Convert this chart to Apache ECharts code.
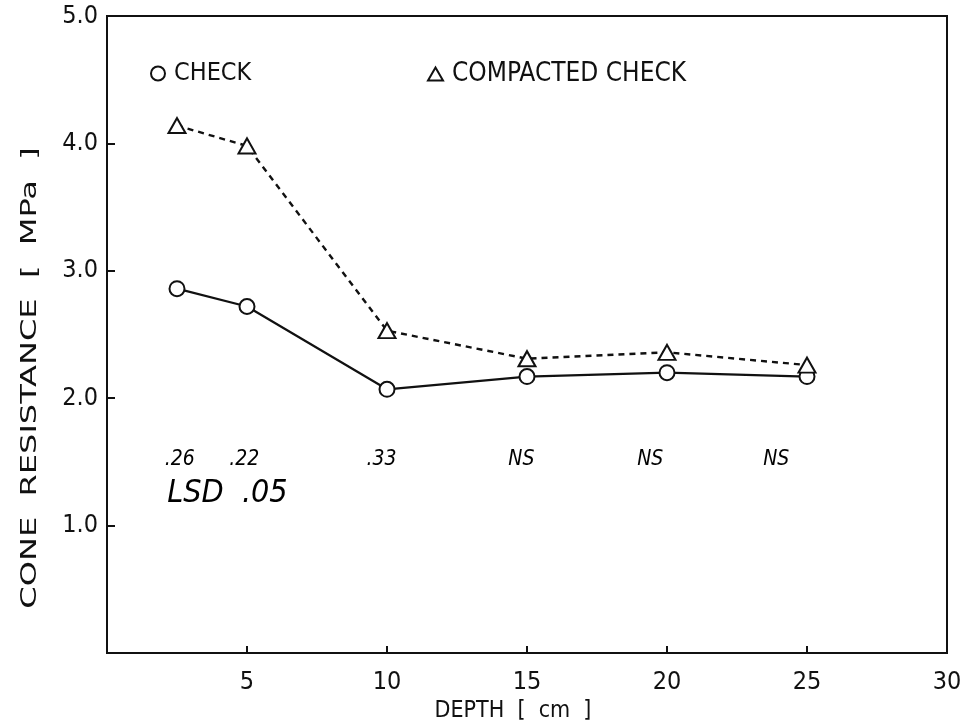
<!DOCTYPE html>
<html>
<head>
<meta charset="utf-8">
<script src="https://cdn.jsdelivr.net/npm/echarts@6/dist/echarts.min.js"></script>
<style>html,body{margin:0;padding:0;background:#fff}#c{width:974px;height:727px}</style>
</head>
<body>
<div id="c"></div>
<script>
var depths = [2.5, 5, 10, 15, 20, 25];
var checkValues = [2.86, 2.72, 2.07, 2.17, 2.20, 2.17];
var compactedValues = [4.14, 3.98, 2.53, 2.31, 2.36, 2.26];
var lsdLabels = ['.26', '.22', '.33', 'NS', 'NS', 'NS'];
var lsdX = [2.6, 4.9, 9.8, 14.8, 19.4, 23.9];
var lsdY = 1.52;
var lsdTitle = 'LSD  .05';
var lsdTitleX = 4.3, lsdTitleY = 1.25;
var xTicks = [5, 10, 15, 20, 25, 30];
var yTicks = [1.0, 2.0, 3.0, 4.0, 5.0];

var FONT = "'DejaVu Sans Condensed', 'DejaVu Sans', sans-serif";
var INK = '#111';

var chart = echarts.init(document.getElementById('c'));
chart.setOption({
  backgroundColor: '#fff',
  animation: false,
  grid: { left: 107, right: 27, top: 16, bottom: 74, containLabel: false, outerBoundsMode: 'none',
    show: true, borderColor: INK, borderWidth: 2, backgroundColor: 'transparent' },
  legend: [
    { data: ['CHECK'], left: 145, top: 56, icon: 'circle', itemWidth: 14, itemHeight: 14, itemGap: 8,
      itemStyle: { color: '#fff', borderColor: INK, borderWidth: 2 },
      textStyle: { fontFamily: FONT, fontSize: 25, color: INK, padding: [0, 0, 0, 4] } },
    { data: ['COMPACTED CHECK'], left: 422, top: 56, icon: 'triangle', itemWidth: 15, itemHeight: 13, itemGap: 8,
      itemStyle: { color: '#fff', borderColor: INK, borderWidth: 2 },
      textStyle: { fontFamily: FONT, fontSize: 26, color: INK, padding: [0, 0, 0, 4] } }
  ],
  xAxis: {
    type: 'value', min: 0, max: 30, interval: 5,
    name: 'DEPTH  [  cm  ]', nameLocation: 'middle', nameGap: 45,
    nameTextStyle: { fontFamily: FONT, fontSize: 23, color: INK, padding: [0, 28, 0, 0] },
    axisLine: { show: true, lineStyle: { color: INK, width: 2 } },
    axisTick: { show: true, inside: true, length: 7, lineStyle: { color: INK, width: 2 } },
    axisLabel: { margin: 17, fontFamily: FONT, fontSize: 25, color: INK,
      formatter: function (v) { return xTicks.indexOf(v) >= 0 ? String(v) : ''; } },
    splitLine: { show: false }
  },
  yAxis: {
    type: 'value', min: 0, max: 5, interval: 1,
    axisLine: { show: true, lineStyle: { color: INK, width: 2 } },
    axisTick: { show: true, inside: true, length: 8, lineStyle: { color: INK, width: 2 } },
    axisLabel: { margin: 9, fontFamily: FONT, fontSize: 25, color: INK,
      formatter: function (v) { return yTicks.indexOf(v) >= 0 ? v.toFixed(1) : ''; } },
    splitLine: { show: false }
  },
  graphic: [{
    type: 'text', x: 30, y: 378, rotation: Math.PI / 2, scaleX: 1.62,
    style: { text: 'CONE  RESISTANCE  [  MPa  ]', font: '22px ' + FONT, fill: INK,
      textAlign: 'center', textVerticalAlign: 'middle' }
  }],
  series: [
    {
      name: 'CHECK', type: 'line', data: depths.map(function (d, i) { return [d, checkValues[i]]; }),
      symbol: 'circle', symbolSize: 15, z: 3,
      itemStyle: { color: '#fff', borderColor: INK, borderWidth: 2 },
      lineStyle: { color: INK, width: 2.2, type: 'solid' }
    },
    {
      name: 'COMPACTED CHECK', type: 'line', data: depths.map(function (d, i) { return [d, compactedValues[i]]; }),
      symbol: 'triangle', symbolSize: [17, 15], z: 4,
      itemStyle: { color: '#fff', borderColor: INK, borderWidth: 2 },
      lineStyle: { color: INK, width: 2.4, type: [6, 5] }
    },
    {
      name: 'LSD', type: 'scatter', symbol: 'circle', symbolSize: 1, silent: true,
      itemStyle: { color: 'rgba(255,255,255,0)' },
      data: lsdX.map(function (x, i) { return { value: [x, lsdY], label: { formatter: lsdLabels[i] } }; })
        .concat([{ value: [lsdTitleX, lsdTitleY], label: { formatter: lsdTitle, fontSize: 32 } }]),
      label: { show: true, position: 'inside', fontFamily: FONT, fontStyle: 'italic', fontSize: 21,
        color: '#000', opacity: 1, textBorderWidth: 0 }
    }
  ]
});
</script>
</body>
</html>
